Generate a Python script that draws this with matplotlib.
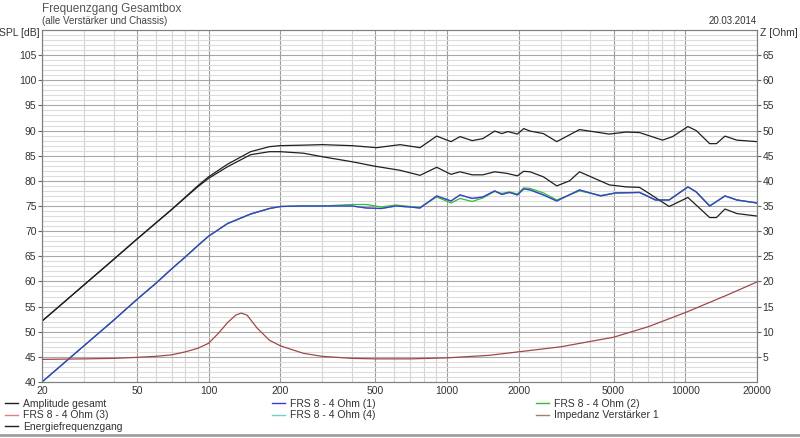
import matplotlib
matplotlib.use("Agg")
import matplotlib.pyplot as plt
from matplotlib.lines import Line2D
import numpy as np

# --- data ---
f_amp = [20, 30, 40, 50, 60, 70, 80, 90, 100, 120, 150, 180, 200, 250, 300, 400, 507, 636, 771,
         906, 1040, 1135, 1277, 1415, 1587, 1700, 1805, 1975, 2100, 2233, 2540, 2890, 3600, 4800,
         5650, 6430, 8030, 8850, 10260, 11120, 12660, 13520, 14680, 16460, 20000]
amp_gesamt = [52.1, 59.3, 64.4, 68.4, 71.6, 74.3, 76.8, 79.0, 80.8, 83.3, 85.8, 86.8, 87.0, 87.1,
              87.2, 87.0, 86.6, 87.2, 86.6, 88.9, 87.8, 88.8, 88.0, 88.4, 89.9, 89.4, 89.8, 89.3,
              90.4, 89.9, 89.4, 87.8, 90.2, 89.3, 89.7, 89.6, 88.1, 88.8, 90.8, 90.0, 87.4, 87.4,
              88.9, 88.1, 87.8]

f_energie = [20, 30, 40, 50, 60, 70, 80, 90, 100, 120, 150, 180, 200, 250, 300, 400, 500, 636,
             771, 906, 1040, 1135, 1277, 1415, 1587, 1780, 1975, 2100, 2233, 2540, 2890, 3270,
             3600, 4800, 5650, 6430, 7050, 8560, 10260, 12660, 13520, 14680, 16460, 20000]
energie = [52.1, 59.3, 64.4, 68.4, 71.6, 74.3, 76.7, 78.8, 80.5, 82.8, 85.2, 85.8, 85.8, 85.5,
           84.8, 83.8, 82.9, 82.1, 81.1, 82.7, 81.3, 81.8, 81.2, 81.2, 81.8, 81.5, 81.0, 81.9,
           81.8, 80.8, 79.0, 80.0, 81.8, 79.2, 78.8, 78.7, 77.5, 74.9, 76.7, 72.7, 72.7, 74.4,
           73.5, 73.0]

f_frs = [20, 30, 40, 50, 60, 70, 80, 90, 100, 120, 150, 180, 200, 250, 300, 400, 460, 530, 610,
         700, 771, 906, 1040, 1135, 1277, 1415, 1587, 1700, 1830, 1975, 2100, 2233, 2540, 2890,
         3600, 4420, 5100, 6430, 7500, 8560, 10260, 11120, 12660, 14680, 16460, 20000]
frs_1 = [40.0, 47.2, 52.3, 56.4, 59.6, 62.5, 64.9, 67.1, 69.0, 71.5, 73.4, 74.5, 74.9, 75.0, 75.0,
         75.0, 74.6, 74.5, 75.0, 74.8, 74.6, 77.0, 76.0, 77.2, 76.5, 76.8, 78.0, 77.3, 77.7, 77.2,
         78.4, 78.2, 77.2, 76.0, 78.2, 77.0, 77.6, 77.7, 76.2, 76.2, 78.8, 77.8, 75.0, 77.0, 76.2,
         75.6]
frs_2 = [40.0, 47.2, 52.3, 56.4, 59.6, 62.5, 64.9, 67.1, 69.0, 71.5, 73.4, 74.5, 74.9, 75.0, 75.0,
         75.3, 75.3, 74.8, 75.2, 74.9, 74.7, 76.8, 75.6, 76.5, 75.9, 76.6, 77.9, 77.5, 77.8, 77.4,
         78.6, 78.5, 77.6, 76.2, 78.0, 77.1, 77.6, 77.7, 76.2, 76.2, 78.8, 77.8, 75.0, 77.0, 76.2,
         75.6]
frs_3 = list(frs_1)
frs_4 = list(frs_1)

f_imp = [20, 30, 40, 50, 60, 70, 80, 90, 100, 110, 120, 130, 137, 145, 160, 180, 200, 250, 300,
         400, 500, 700, 1000, 1500, 2000, 3000, 5000, 7000, 10000, 15000, 20000]
impedanz = [4.5, 4.6, 4.7, 4.9, 5.1, 5.4, 6.0, 6.7, 7.7, 9.7, 11.8, 13.3, 13.7, 13.3, 10.7, 8.3,
            7.2, 5.7, 5.1, 4.7, 4.6, 4.6, 4.8, 5.3, 6.0, 7.0, 8.9, 11.0, 13.8, 17.3, 19.9]

x_ticks = [20, 50, 100, 200, 500, 1000, 2000, 5000, 10000, 20000]
spl_ticks = list(range(40, 110, 5))
z_ticks = list(range(5, 70, 5))

txt = "#333333"
plt.rcParams["font.family"] = ["Liberation Sans", "DejaVu Sans"]

fig = plt.figure(figsize=(8, 4.38), dpi=100)
ax = fig.add_axes([42 / 800, 1 - 382 / 438, 715 / 800, 352 / 438])
ax.set_xscale("log")
ax.set_xlim(20, 20000)
ax.set_ylim(40, 110)

# grid
minor_f = [k * d for d in (10, 100, 1000, 10000) for k in range(1, 10) if 20 <= k * d <= 20000]
for fv in minor_f:
    ax.axvline(fv, color="#9c9c9c" if fv in x_ticks else "#d4d4d4", lw=0.8, zorder=0)
for yv in range(41, 110):
    ax.axhline(yv, color="#a8a8a8" if yv % 5 == 0 else "#dcdcdc", lw=0.8, zorder=0)

ax.plot(f_amp, amp_gesamt, color="#202020", lw=0.9, zorder=3)
ax.plot(f_frs, frs_3, color="#e08080", lw=0.9, zorder=2)
ax.plot(f_frs, frs_4, color="#70d0d0", lw=0.9, zorder=2)
ax.plot(f_frs, frs_2, color="#30c030", lw=0.9, zorder=3)
ax.plot(f_frs, frs_1, color="#3a3ad8", lw=0.9, zorder=4)
ax.plot(f_energie, energie, color="#202020", lw=0.9, zorder=3)

az = ax.twinx()
az.set_ylim(0, 70)
az.plot(f_imp, impedanz, color="#a04848", lw=0.9, zorder=3)

ax.set_xticks(x_ticks)
ax.set_xticklabels([str(v) for v in x_ticks])
ax.xaxis.set_minor_locator(matplotlib.ticker.NullLocator())
ax.set_yticks(spl_ticks)
ax.set_yticklabels([str(v) for v in spl_ticks])
az.set_yticks(z_ticks)
az.set_yticklabels([str(v) for v in z_ticks])
ax.tick_params(axis="x", length=0, pad=3, labelsize=7.5, labelcolor=txt)
ax.tick_params(axis="y", length=3, width=0.8, color="#666666", pad=1, labelsize=7.5, labelcolor=txt)
az.tick_params(axis="y", length=3, width=0.8, color="#666666", pad=1, labelsize=7.5, labelcolor=txt)
for a in (ax, az):
    for s in a.spines.values():
        s.set_color("#808080")
        s.set_linewidth(0.8)

fig.text(40 / 800, 1 - 33 / 438, "SPL [dB]", ha="right", va="center", fontsize=7.5, color=txt)
fig.text(760 / 800, 1 - 33 / 438, "Z [Ohm]", ha="left", va="center", fontsize=7.5, color=txt)
fig.text(42 / 800, 1 - 9 / 438, "Frequenzgang Gesamtbox", ha="left", va="center", fontsize=8.5,
         color="#555555")
fig.text(42 / 800, 1 - 21 / 438, "(alle Verstärker und Chassis)", ha="left", va="center",
         fontsize=7, color="#444444")
fig.text(757 / 800, 1 - 21 / 438, "20.03.2014", ha="right", va="center", fontsize=7, color=txt)

# legend in three columns
cols = [
    (5, [("#202020", "Amplitude gesamt"), ("#e08080", "FRS 8 - 4 Ohm (3)"),
         ("#202020", "Energiefrequenzgang")]),
    (272, [("#3a3ad8", "FRS 8 - 4 Ohm (1)"), ("#70d0d0", "FRS 8 - 4 Ohm (4)")]),
    (536, [("#30c030", "FRS 8 - 4 Ohm (2)"), ("#a08070", "Impedanz Verstärker 1")]),
]
for x0, items in cols:
    handles = [Line2D([], [], color=c, lw=1) for c, _ in items]
    leg = fig.legend(handles, [l for _, l in items], loc="upper left",
                     bbox_to_anchor=(x0 / 800, 1 - 399 / 438), frameon=False, fontsize=7.5,
                     handlelength=1.2, handletextpad=0.5, labelspacing=0.12, borderpad=0,
                     borderaxespad=0)
    for t in leg.get_texts():
        t.set_color(txt)

fig.add_artist(Line2D([0, 1], [1 - 435 / 438, 1 - 435 / 438], color="#a0a0a0", lw=2,
                      transform=fig.transFigure))

fig.savefig("out.png", dpi=100)
